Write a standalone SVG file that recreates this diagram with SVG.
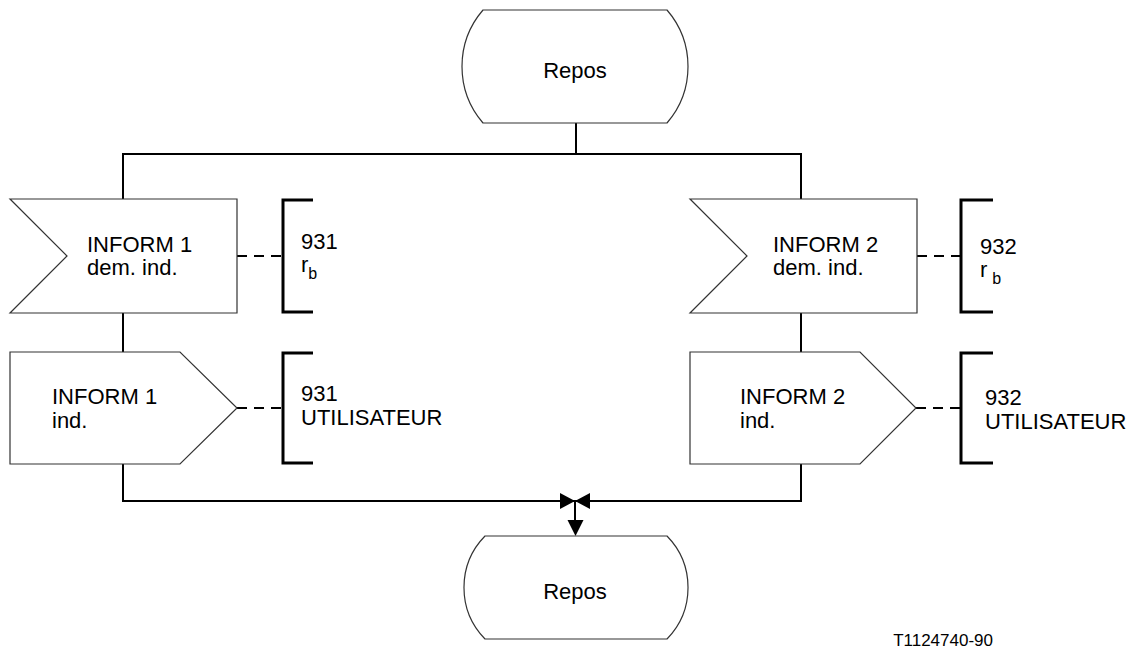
<svg xmlns="http://www.w3.org/2000/svg" width="1139" height="650" viewBox="0 0 1139 650">
<style>
.shape{fill:#fff;stroke:#333;stroke-width:1.2}
.conn{fill:none;stroke:#000;stroke-width:2}
.dash{fill:none;stroke:#000;stroke-width:2;stroke-dasharray:10 7}
.brk{fill:none;stroke:#000;stroke-width:3}
.t{font-family:"Liberation Sans",Arial,sans-serif;font-size:22px;fill:#000}
.sub{font-size:16px}
.lbl{font-family:"Liberation Sans",Arial,sans-serif;font-size:17px;fill:#000}
.head{fill:#000}
</style>
<rect width="1139" height="650" fill="#fff"/>
<g id="connectors">
<line class="conn" x1="576" y1="123" x2="576" y2="154"/>
<line class="conn" x1="122" y1="154" x2="802" y2="154"/>
<line class="conn" x1="123" y1="154" x2="123" y2="199"/>
<line class="conn" x1="801" y1="154" x2="801" y2="199"/>
<line class="conn" x1="123" y1="313" x2="123" y2="352"/>
<line class="conn" x1="801" y1="313" x2="801" y2="352"/>
<line class="conn" x1="123" y1="464" x2="123" y2="501"/>
<line class="conn" x1="801" y1="464" x2="801" y2="501"/>
<line class="conn" x1="122" y1="501" x2="802" y2="501"/>
<polygon class="head" points="560,493 560,509 575,501"/>
<polygon class="head" points="590,493 590,509 575,501"/>
<line class="conn" x1="575" y1="501" x2="575" y2="521"/>
<polygon class="head" points="567.5,520 583.5,520 575.5,536"/>
<line class="dash" x1="237" y1="256" x2="282" y2="256"/>
<line class="dash" x1="917" y1="256" x2="960" y2="256"/>
<line class="dash" x1="237" y1="408" x2="282" y2="408"/>
<line class="dash" x1="916" y1="408" x2="960" y2="408"/>
</g>
<g id="repos-top">
<path class="shape" d="M483,10 L667,10 A86.5,86.5 0 0 1 667,123 L483,123 A86.5,86.5 0 0 1 483,10 Z"/>
<text class="t" x="575" y="78" text-anchor="middle">Repos</text>
</g>
<g id="input-1">
<polygon class="shape" points="10,199 237,199 237,313 10,313 67,256"/>
<text class="t" x="87" y="252">INFORM 1</text>
<text class="t" x="87" y="275">dem. ind.</text>
</g>
<g id="comment-in-1">
<polyline class="brk" points="313,200 283,200 283,312 313,312"/>
<text class="t" x="301" y="249">931</text>
<text class="t" x="301" y="272">r<tspan class="sub" dy="7">b</tspan></text>
</g>
<g id="input-2">
<polygon class="shape" points="690,199 917,199 917,313 690,313 747,256"/>
<text class="t" x="773" y="252">INFORM 2</text>
<text class="t" x="773" y="275">dem. ind.</text>
</g>
<g id="comment-in-2">
<polyline class="brk" points="993,200 961,200 961,312 993,312"/>
<text class="t" x="980" y="254">932</text>
<text class="t" x="980" y="277">r<tspan class="sub" dx="5" dy="7">b</tspan></text>
</g>
<g id="output-1">
<polygon class="shape" points="10,352 180,352 237,408 180,464 10,464"/>
<text class="t" x="52" y="404">INFORM 1</text>
<text class="t" x="52" y="428">ind.</text>
</g>
<g id="comment-out-1">
<polyline class="brk" points="313,353 283,353 283,463 313,463"/>
<text class="t" x="301" y="401">931</text>
<text class="t" x="301" y="425">UTILISATEUR</text>
</g>
<g id="output-2">
<polygon class="shape" points="690,352 860,352 916,408 860,464 690,464"/>
<text class="t" x="740" y="404">INFORM 2</text>
<text class="t" x="740" y="428">ind.</text>
</g>
<g id="comment-out-2">
<polyline class="brk" points="993,353 961,353 961,463 993,463"/>
<text class="t" x="985" y="405">932</text>
<text class="t" x="985" y="429">UTILISATEUR</text>
</g>
<g id="repos-bottom">
<path class="shape" d="M485,536 L667,536 A73.6,73.6 0 0 1 667,639 L485,639 A73.6,73.6 0 0 1 485,536 Z"/>
<text class="t" x="575" y="599" text-anchor="middle">Repos</text>
</g>
<text class="lbl" x="993" y="646" text-anchor="end">T1124740-90</text>
</svg>
